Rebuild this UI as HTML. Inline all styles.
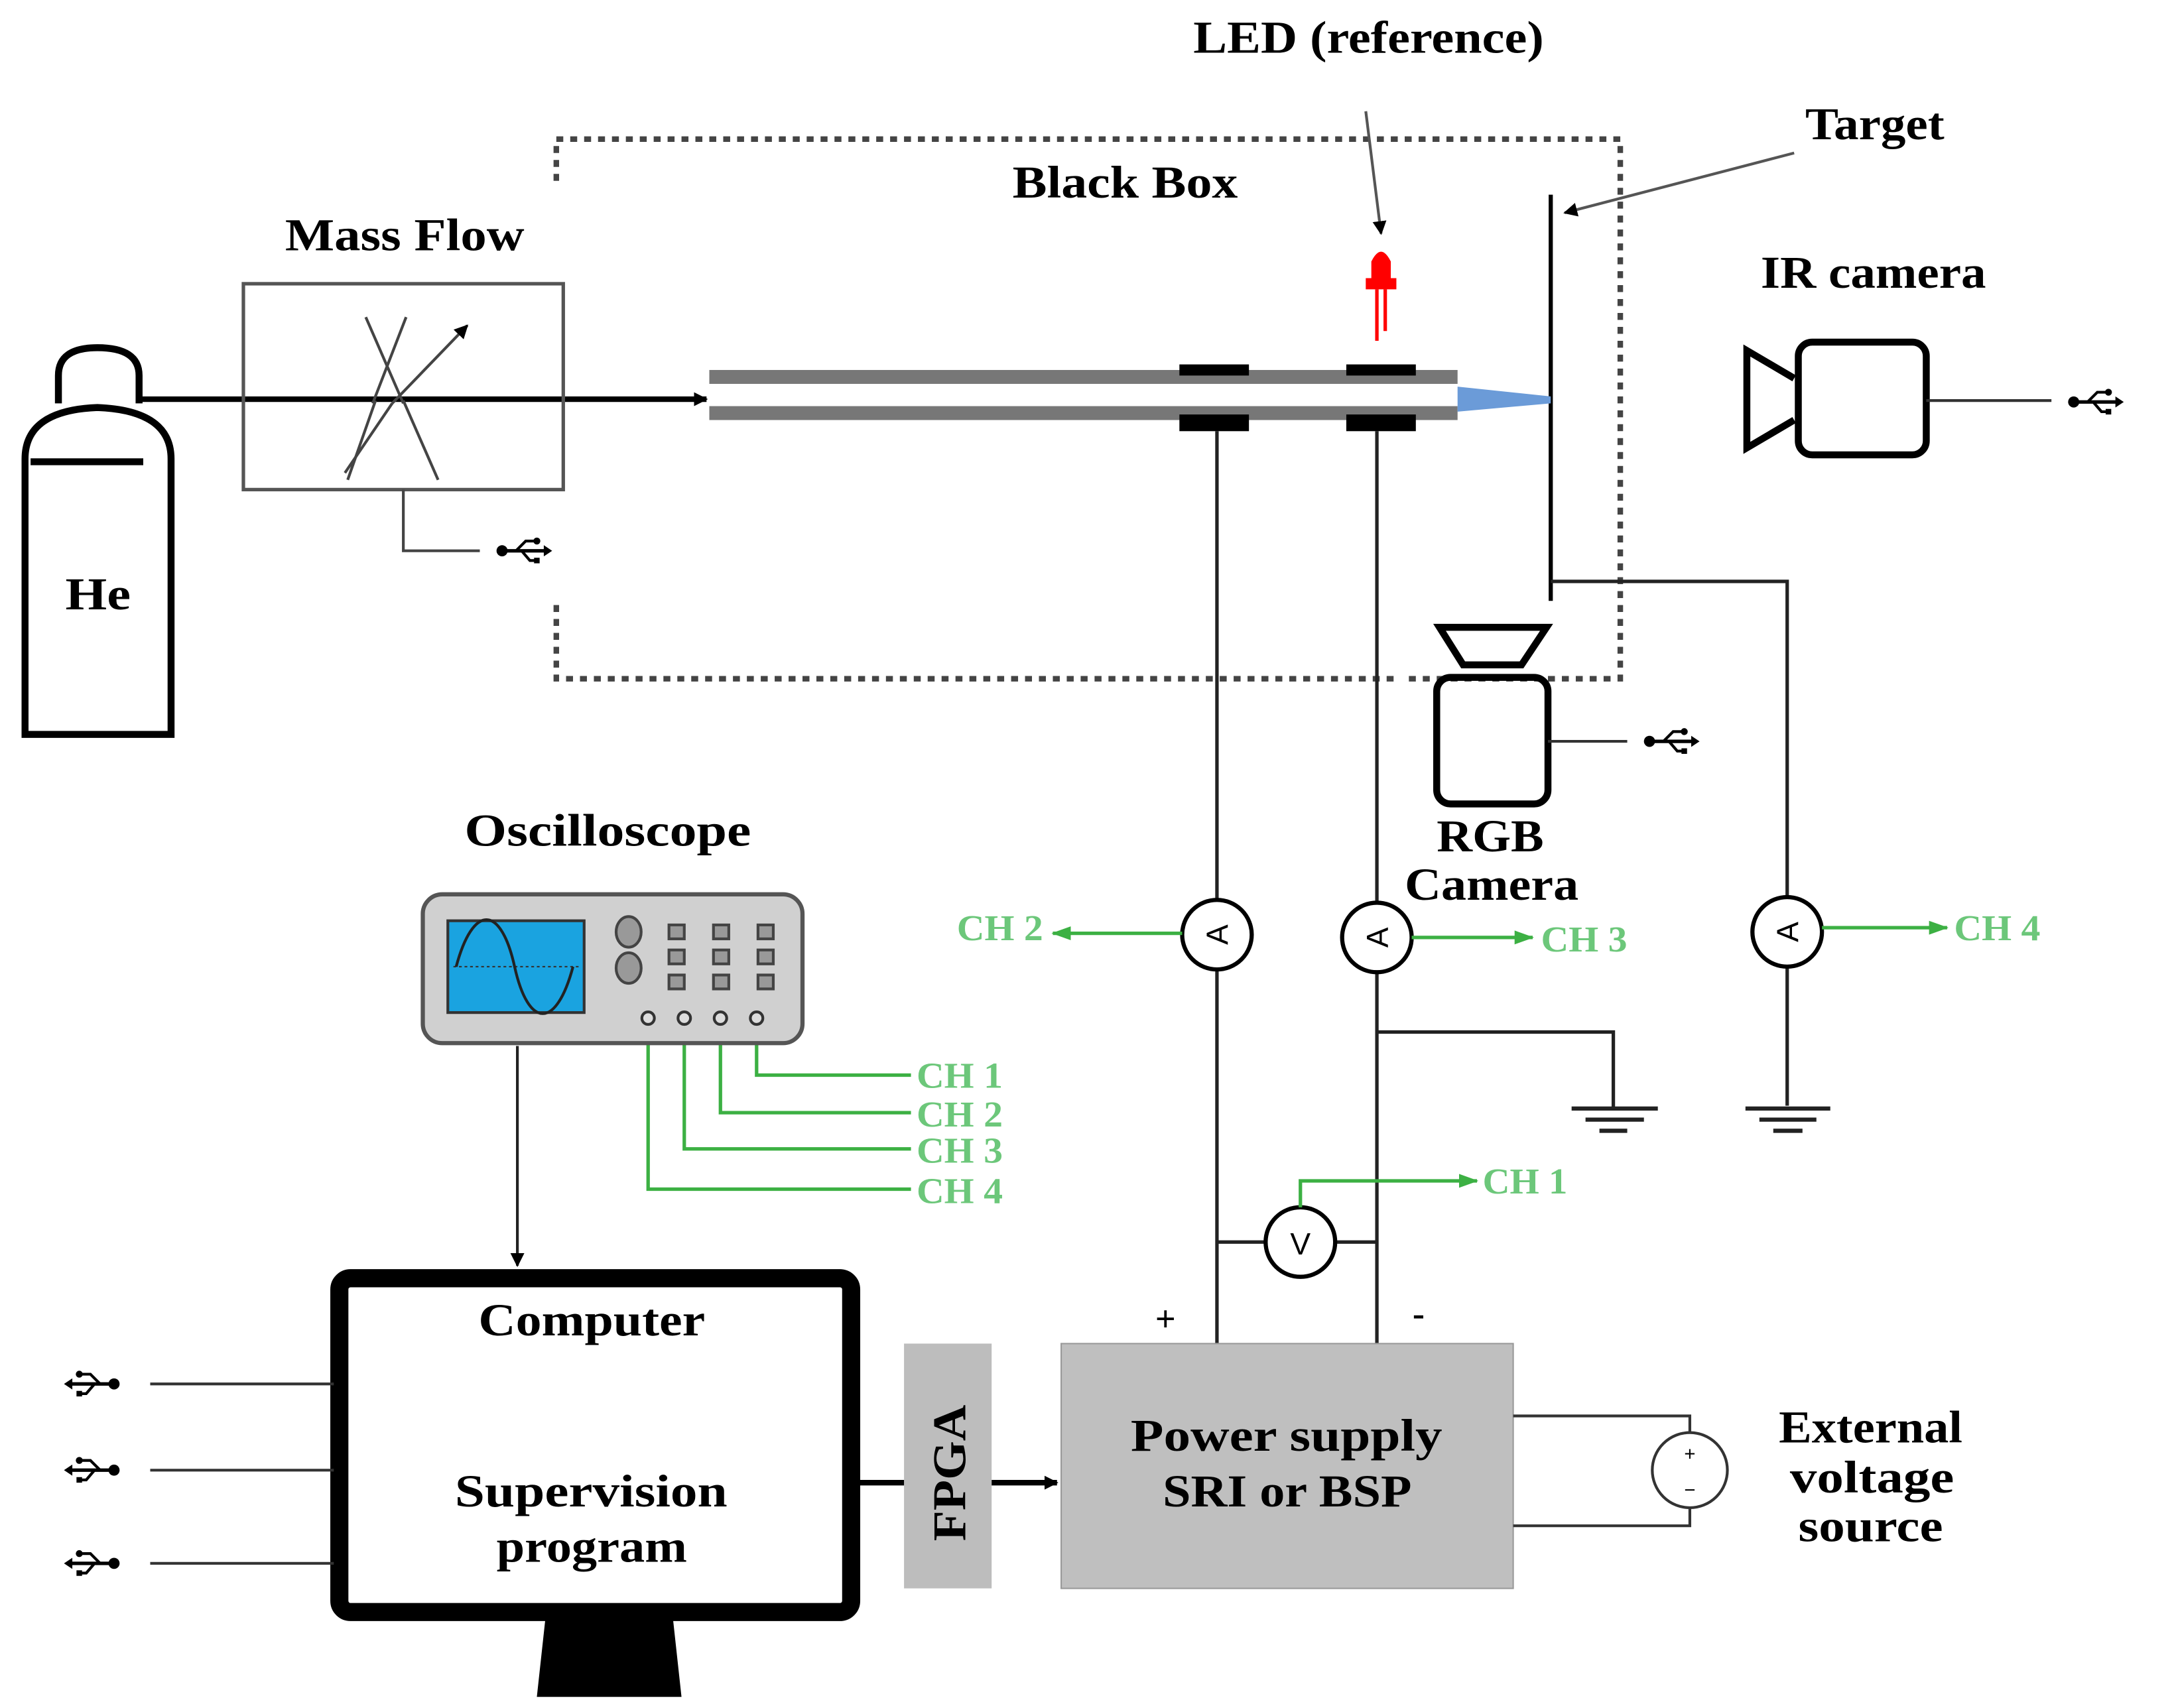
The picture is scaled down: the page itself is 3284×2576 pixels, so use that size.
<!DOCTYPE html>
<html><head><meta charset="utf-8"><style>
html,body{margin:0;padding:0;background:#fff;}
svg{display:block;}
text{font-family:"Liberation Serif",serif;font-weight:bold;}
</style></head><body>
<svg width="3284" height="2576" viewBox="0 0 1566 1228" preserveAspectRatio="none" xmlns="http://www.w3.org/2000/svg">
<defs>
<marker id="ab" markerWidth="10" markerHeight="10" refX="9" refY="5" orient="auto" markerUnits="userSpaceOnUse"><path d="M0,0 L10,5 L0,10 Z" fill="#000"/></marker>
<marker id="ag" markerWidth="14" markerHeight="10" refX="13" refY="5" orient="auto" markerUnits="userSpaceOnUse"><path d="M0,0 L14,5 L0,10 Z" fill="#3cb043"/></marker>
<g id="usb" fill="#000" stroke="#000">
<circle cx="-14" cy="0" r="4" stroke="none"/>
<line x1="-14" y1="0" x2="18" y2="0" stroke-width="2.5"/>
<path d="M-4,0 L3,-7 L10,-7" fill="none" stroke-width="2"/>
<path d="M0,0 L6,7 L10,7" fill="none" stroke-width="2"/>
<circle cx="11" cy="-7" r="2.5" stroke="none"/>
<rect x="9" y="5" width="4" height="4" stroke="none"/>
<path d="M16,-4 L22,0 L16,4 Z" stroke="none"/>
</g>
</defs>

<!-- black box dotted -->
<g fill="none" stroke="#444" stroke-width="4" stroke-dasharray="5,5">
<path d="M400,130 L400,100 L1165,100 L1165,488 L1010,488"/>
<path d="M400,435 L400,488 L1005,488"/>
</g>

<!-- LED -->
<line x1="982" y1="80" x2="993" y2="168" stroke="#555" stroke-width="2" marker-end="url(#ab)"/>
<path d="M986,200 L986,188 Q993,174 1000,188 L1000,200 L1004,200 L1004,208 L982,208 L982,200 Z" fill="#f00"/>
<line x1="990" y1="208" x2="990" y2="245" stroke="#f00" stroke-width="2.5"/>
<line x1="996" y1="208" x2="996" y2="238" stroke="#f00" stroke-width="2.5"/>

<!-- target -->
<line x1="1115" y1="140" x2="1115" y2="432" stroke="#000" stroke-width="3"/>
<line x1="1290" y1="110" x2="1125" y2="153" stroke="#555" stroke-width="2" marker-end="url(#ab)"/>
<path d="M1115,418 L1285,418 L1285,645" fill="none" stroke="#222" stroke-width="2.5"/>

<!-- tube -->
<rect x="510" y="266" width="538" height="10" fill="#777"/>
<rect x="510" y="292" width="538" height="10" fill="#777"/>
<rect x="848" y="262" width="50" height="8" fill="#000"/>
<rect x="968" y="262" width="50" height="8" fill="#000"/>
<rect x="848" y="298" width="50" height="12" fill="#000"/>
<rect x="968" y="298" width="50" height="12" fill="#000"/>
<path d="M1048,278 L1115,285 L1115,290 L1048,296 Z" fill="#6b9bd8"/>

<!-- gas line -->
<line x1="100" y1="287" x2="508" y2="287" stroke="#000" stroke-width="4" marker-end="url(#ab)"/>

<!-- He cylinder -->
<path d="M42,290 L42,270 Q42,250 70,250 Q100,250 100,270 L100,290" fill="none" stroke="#000" stroke-width="5"/>
<path d="M18,528 L18,330 Q18,295 70,293 Q123,295 123,330 L123,528 Z" fill="none" stroke="#000" stroke-width="5"/>
<line x1="22" y1="332" x2="103" y2="332" stroke="#000" stroke-width="5"/>

<!-- mass flow -->
<rect x="175" y="204" width="230" height="148" fill="none" stroke="#555" stroke-width="2.5"/>
<g stroke="#444" stroke-width="2">
<line x1="263" y1="228" x2="290" y2="290"/>
<line x1="292" y1="228" x2="268" y2="290"/>
<line x1="270" y1="288" x2="250" y2="345"/>
<line x1="290" y1="288" x2="315" y2="345"/>
<line x1="282" y1="290" x2="248" y2="340"/>
<line x1="282" y1="290" x2="336" y2="234" marker-end="url(#ab)"/>
</g>
<path d="M290,352 L290,396 L345,396" fill="none" stroke="#444" stroke-width="2"/>
<use href="#usb" x="375" y="396"/>

<!-- IR camera -->
<rect x="1293" y="246" width="92" height="81" rx="10" fill="none" stroke="#000" stroke-width="5"/>
<path d="M1290,272 L1256,252 L1256,322 L1290,302" fill="none" stroke="#000" stroke-width="5"/>
<line x1="1385" y1="288" x2="1475" y2="288" stroke="#333" stroke-width="2"/>
<use href="#usb" x="1505" y="289"/>

<!-- RGB camera -->
<path d="M1035,451 L1112,451 L1094,478 L1052,478 Z" fill="none" stroke="#000" stroke-width="5"/>
<rect x="1033" y="487" width="80" height="91" rx="10" fill="none" stroke="#000" stroke-width="5"/>
<line x1="1113" y1="533" x2="1170" y2="533" stroke="#333" stroke-width="2"/>
<use href="#usb" x="1200" y="533"/>

<!-- wires -->
<g stroke="#222" stroke-width="2.5" fill="none">
<line x1="875" y1="310" x2="875" y2="966"/>
<line x1="990" y1="310" x2="990" y2="966"/>
<line x1="1285" y1="695" x2="1285" y2="795"/>
<path d="M990,742 L1160,742 L1160,797"/>
<line x1="875" y1="893" x2="990" y2="893"/>
</g>
<g stroke="#222" stroke-width="3">
<line x1="1130" y1="797" x2="1192" y2="797"/><line x1="1140" y1="805" x2="1182" y2="805"/><line x1="1150" y1="813" x2="1170" y2="813"/>
<line x1="1255" y1="797" x2="1316" y2="797"/><line x1="1265" y1="805" x2="1306" y2="805"/><line x1="1275" y1="813" x2="1296" y2="813"/>
</g>

<!-- meters -->
<g fill="#fff" stroke="#000" stroke-width="3">
<circle cx="875" cy="672" r="25"/><circle cx="990" cy="674" r="25"/><circle cx="1285" cy="670" r="25"/><circle cx="935" cy="893" r="25"/>
</g>
<g font-size="22" fill="#000">
<text x="0" y="0" text-anchor="middle" transform="translate(883,672) rotate(-90)" style="font-family:'Liberation Sans',sans-serif;font-weight:normal">A</text>
<text x="0" y="0" text-anchor="middle" transform="translate(998,674) rotate(-90)" style="font-family:'Liberation Sans',sans-serif;font-weight:normal">A</text>
<text x="0" y="0" text-anchor="middle" transform="translate(1293,670) rotate(-90)" style="font-family:'Liberation Sans',sans-serif;font-weight:normal">A</text>
<text x="935" y="902" text-anchor="middle" style="font-family:'Liberation Sans',sans-serif;font-weight:normal">V</text>
</g>

<!-- green channels -->
<g stroke="#3cb043" stroke-width="2.5" fill="none">
<line x1="850" y1="671" x2="757" y2="671" marker-end="url(#ag)"/>
<line x1="1015" y1="674" x2="1102" y2="674" marker-end="url(#ag)"/>
<line x1="1310" y1="667" x2="1400" y2="667" marker-end="url(#ag)"/>
<path d="M935,868 L935,849 L1062,849" marker-end="url(#ag)"/>
<path d="M544,738 L544,773 L655,773"/>
<path d="M518,738 L518,800 L655,800"/>
<path d="M492,738 L492,826 L655,826"/>
<path d="M466,738 L466,855 L655,855"/>
</g>
<g fill="#6cc77a" font-size="26">
<text x="688" y="676" textLength="62" lengthAdjust="spacingAndGlyphs">CH 2</text>
<text x="1108" y="684" textLength="62" lengthAdjust="spacingAndGlyphs">CH 3</text>
<text x="1405" y="676" textLength="62" lengthAdjust="spacingAndGlyphs">CH 4</text>
<text x="1066" y="858" textLength="61" lengthAdjust="spacingAndGlyphs">CH 1</text>
<text x="659" y="782" textLength="62" lengthAdjust="spacingAndGlyphs">CH 1</text>
<text x="659" y="810" textLength="62" lengthAdjust="spacingAndGlyphs">CH 2</text>
<text x="659" y="836" textLength="62" lengthAdjust="spacingAndGlyphs">CH 3</text>
<text x="659" y="865" textLength="62" lengthAdjust="spacingAndGlyphs">CH 4</text>
</g>

<!-- oscilloscope -->
<rect x="304" y="643" width="273" height="107" rx="14" fill="#d0d0d0" stroke="#555" stroke-width="3"/>
<rect x="322" y="662" width="98" height="66" fill="#1aa3e0" stroke="#333" stroke-width="2"/>
<line x1="326" y1="695" x2="416" y2="695" stroke="#333" stroke-width="1" stroke-dasharray="2,2"/>
<path d="M328,695 C340,650 360,650 370,695 C380,740 400,740 412,695" fill="none" stroke="#222" stroke-width="2"/>
<g fill="#999" stroke="#444" stroke-width="2">
<ellipse cx="452" cy="670" rx="9" ry="11"/><ellipse cx="452" cy="696" rx="9" ry="11"/>
<rect x="481" y="665" width="11" height="10"/><rect x="513" y="665" width="11" height="10"/><rect x="545" y="665" width="11" height="10"/>
<rect x="481" y="683" width="11" height="10"/><rect x="513" y="683" width="11" height="10"/><rect x="545" y="683" width="11" height="10"/>
<rect x="481" y="701" width="11" height="10"/><rect x="513" y="701" width="11" height="10"/><rect x="545" y="701" width="11" height="10"/>
</g>
<g fill="#ddd" stroke="#333" stroke-width="2">
<circle cx="466" cy="732" r="4.5"/><circle cx="492" cy="732" r="4.5"/><circle cx="518" cy="732" r="4.5"/><circle cx="544" cy="732" r="4.5"/>
</g>
<line x1="372" y1="752" x2="372" y2="910" stroke="#222" stroke-width="2" marker-end="url(#ab)"/>

<!-- computer -->
<rect x="244" y="919" width="368" height="240" rx="8" fill="none" stroke="#000" stroke-width="13"/>
<path d="M392,1165 L484,1165 L490,1220 L386,1220 Z" fill="#000"/>
<g stroke="#333" stroke-width="2">
<line x1="108" y1="995" x2="240" y2="995"/><line x1="108" y1="1057" x2="240" y2="1057"/><line x1="108" y1="1124" x2="240" y2="1124"/>
</g>
<use href="#usb" transform="translate(68,995) scale(-1,1)"/>
<use href="#usb" transform="translate(68,1057) scale(-1,1)"/>
<use href="#usb" transform="translate(68,1124) scale(-1,1)"/>

<!-- FPGA -->
<rect x="650" y="966" width="63" height="176" fill="#bdbdbd"/>
<text x="0" y="0" font-size="34" textLength="98" lengthAdjust="spacingAndGlyphs" transform="translate(694,1108) rotate(-90)">FPGA</text>
<line x1="616" y1="1066" x2="650" y2="1066" stroke="#000" stroke-width="4"/>
<line x1="713" y1="1066" x2="760" y2="1066" stroke="#000" stroke-width="4" marker-end="url(#ab)"/>

<!-- power supply -->
<rect x="763" y="966" width="325" height="176" fill="#bfbfbf" stroke="#999" stroke-width="1"/>
<text x="838" y="957" font-size="26" text-anchor="middle">+</text>
<text x="1020" y="953" font-size="26" text-anchor="middle">-</text>
<path d="M1088,1018 L1215,1018 L1215,1030 M1215,1084 L1215,1097 L1088,1097" fill="none" stroke="#333" stroke-width="2"/>
<circle cx="1215" cy="1057" r="27" fill="#fff" stroke="#333" stroke-width="2"/>
<text x="1215" y="1050" font-size="14" text-anchor="middle" style="font-family:'Liberation Sans',sans-serif;font-weight:normal">+</text>
<text x="1215" y="1076" font-size="14" text-anchor="middle" style="font-family:'Liberation Sans',sans-serif;font-weight:normal">−</text>

<!-- texts -->
<g font-size="33" lengthAdjust="spacingAndGlyphs">
<text x="858" y="38" textLength="252" lengthAdjust="spacingAndGlyphs">LED (reference)</text>
<text x="728" y="142" textLength="162" lengthAdjust="spacingAndGlyphs">Black Box</text>
<text x="1298" y="100" textLength="100" lengthAdjust="spacingAndGlyphs">Target</text>
<text x="205" y="180" textLength="172" lengthAdjust="spacingAndGlyphs">Mass Flow</text>
<text x="1266" y="207" textLength="162" lengthAdjust="spacingAndGlyphs">IR camera</text>
<text x="47" y="438" textLength="47" lengthAdjust="spacingAndGlyphs">He</text>
<text x="1033" y="612" textLength="77" lengthAdjust="spacingAndGlyphs">RGB</text>
<text x="1010" y="647" textLength="125" lengthAdjust="spacingAndGlyphs">Camera</text>
<text x="334" y="608" textLength="206" lengthAdjust="spacingAndGlyphs">Oscilloscope</text>
<text x="344" y="960" textLength="163" lengthAdjust="spacingAndGlyphs">Computer</text>
<text x="327" y="1083" textLength="196" lengthAdjust="spacingAndGlyphs">Supervision</text>
<text x="357" y="1123" textLength="137" lengthAdjust="spacingAndGlyphs">program</text>
<text x="813" y="1043" textLength="224" lengthAdjust="spacingAndGlyphs">Power supply</text>
<text x="836" y="1083" textLength="179" lengthAdjust="spacingAndGlyphs">SRI or BSP</text>
<text x="1279" y="1037" textLength="132" lengthAdjust="spacingAndGlyphs">External</text>
<text x="1287" y="1073" textLength="118" lengthAdjust="spacingAndGlyphs">voltage</text>
<text x="1293" y="1108" textLength="104" lengthAdjust="spacingAndGlyphs">source</text>
</g>
</svg>
</body></html>
